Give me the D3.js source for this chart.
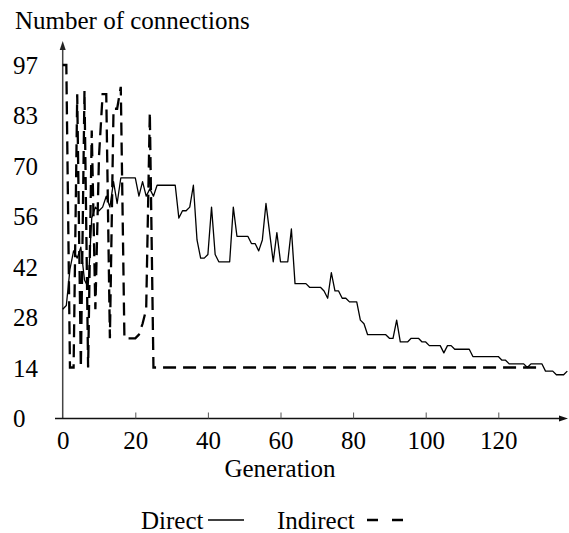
<!DOCTYPE html>
<html>
<head>
<meta charset="utf-8">
<script src="https://cdn.jsdelivr.net/npm/d3@7"></script>
<style>
  html, body { margin: 0; padding: 0; background: #fff; }
  svg { display: block; }
  text { font-family: "Liberation Serif", "Times New Roman", serif; fill: #000; }
</style>
</head>
<body>
<svg id="chart" width="569" height="533"></svg>
<script>
// ---- data ----
const directValues = [
  30,31,41,46,44,47,38,36,55,58, 57,58,61,58,65,59,66,66,66,66,
  66,61,65,61,63,61,64,64,64,64, 64,64,55,57,57,58,64,49,44,44,
  45,58,45,43,43,43,43,58,50,50, 50,50,48,48,46,49,59,51,43,51,
  43,43,43,52,37,37,37,37,36,36, 36,36,35,33,40,35,35,33,33,32,
  32,32,27,26,23,23,23,23,23,23, 22,22,27,21,21,21,22,22,22,21,
  21,20,20,20,20,18,20,20,19,19, 19,19,19,17,17,17,17,17,17,17,
  17,16,16,15,15,15,15,15,14,15, 15,15,15,13,13,13,12,12,12,13
];
const indirectValues = [
  97,97,14,14,89,14,90,14,79,30, 72,89,89,22,85,85,91,22,22,22,
  22,23,26,30,84,14,14,14,14,14, 14,14,14,14,14,14,14,14,14,14,
  14,14,14,14,14,14,14,14,14,14, 14,14,14,14,14,14,14,14,14,14,
  14,14,14,14,14,14,14,14,14,14, 14,14,14,14,14,14,14,14,14,14,
  14,14,14,14,14,14,14,14,14,14, 14,14,14,14,14,14,14,14,14,14,
  14,14,14,14,14,14,14,14,14,14, 14,14,14,14,14,14,14,14,14,14,
  14,14,14,14,14,14,14,14,14,14, 14,14
];
const xTickValues = [0, 20, 40, 60, 80, 100, 120];
const yTickLabels = ["0", "14", "28", "42", "56", "70", "83", "97"];
const yMax = 97;
const xMax = 139;
const seriesNames = ["Direct", "Indirect"];

// ---- layout ----
const svg = d3.select("#chart");
const x0 = 62.7, y0 = 418.5;
const x = d3.scaleLinear().domain([0, xMax]).range([x0, x0 + xMax * 3.63]);
const y = d3.scaleLinear().domain([0, yMax]).range([y0, 65]);
const FS = 25;

// axes lines with arrows
svg.append("line").attr("x1", x0).attr("x2", x0).attr("y1", y0).attr("y2", 48)
  .attr("stroke", "#444").attr("stroke-width", 1.5);
svg.append("path").attr("d", `M${x0},41 L${x0-3},50 L${x0+3},50 Z`).attr("fill", "#222");
svg.append("line").attr("x1", 55).attr("x2", 561).attr("y1", y0).attr("y2", y0)
  .attr("stroke", "#111").attr("stroke-width", 1.5);
svg.append("path").attr("d", `M568,${y0} L559,${y0-3} L559,${y0+3} Z`).attr("fill", "#111");

// x axis ticks + labels
const xAxis = d3.axisBottom(x).tickValues(xTickValues).tickFormat(d3.format("d"))
  .tickSizeInner(-6).tickSizeOuter(0).tickPadding(13);
const gx = svg.append("g").attr("transform", `translate(0,${y0})`).call(xAxis);
gx.select(".domain").remove();
gx.selectAll(".tick line").attr("stroke", "#555").attr("stroke-width", 1);
gx.selectAll(".tick").filter(d => d === 0).select("line").remove();
gx.selectAll("text").attr("font-size", FS).attr("font-family", "Liberation Serif, Times New Roman, serif").attr("fill", "#000");

// y axis labels
const yTickValues = d3.range(8).map(i => i * yMax / 7);
const yAxis = d3.axisLeft(y).tickValues(yTickValues).tickFormat((d, i) => yTickLabels[i])
  .tickSize(0);
const gy = svg.append("g").attr("transform", `translate(${x0},0)`).call(yAxis);
gy.select(".domain").remove();
gy.selectAll("text").attr("font-size", FS).attr("font-family", "Liberation Serif, Times New Roman, serif")
  .attr("fill", "#000").attr("text-anchor", "start").attr("x", 13 - x0).attr("dy", "0.33em");

// titles
svg.append("text").attr("x", 15).attr("y", 29).attr("font-size", FS).text("Number of connections");
svg.append("text").attr("x", 280).attr("y", 477).attr("font-size", FS).attr("text-anchor", "middle").text("Generation");

// lines
const line = d3.line().x((d, i) => x(i)).y(d => y(d));
svg.append("path").datum(indirectValues).attr("d", line).attr("fill", "none")
  .attr("stroke", "#000").attr("stroke-width", 2.3).attr("stroke-dasharray", "13,7");
svg.append("path").datum(directValues).attr("d", line).attr("fill", "none")
  .attr("stroke", "#000").attr("stroke-width", 1.3).attr("stroke-linejoin", "round");

// legend
svg.append("text").attr("x", 141).attr("y", 529).attr("font-size", FS).text(seriesNames[0]);
svg.append("line").attr("x1", 208).attr("x2", 244).attr("y1", 520).attr("y2", 520)
  .attr("stroke", "#000").attr("stroke-width", 1.3);
svg.append("text").attr("x", 277).attr("y", 529).attr("font-size", FS).text(seriesNames[1]);
svg.append("line").attr("x1", 367).attr("x2", 404).attr("y1", 520).attr("y2", 520)
  .attr("stroke", "#000").attr("stroke-width", 2.3).attr("stroke-dasharray", "11,14");
</script>
</body>
</html>
